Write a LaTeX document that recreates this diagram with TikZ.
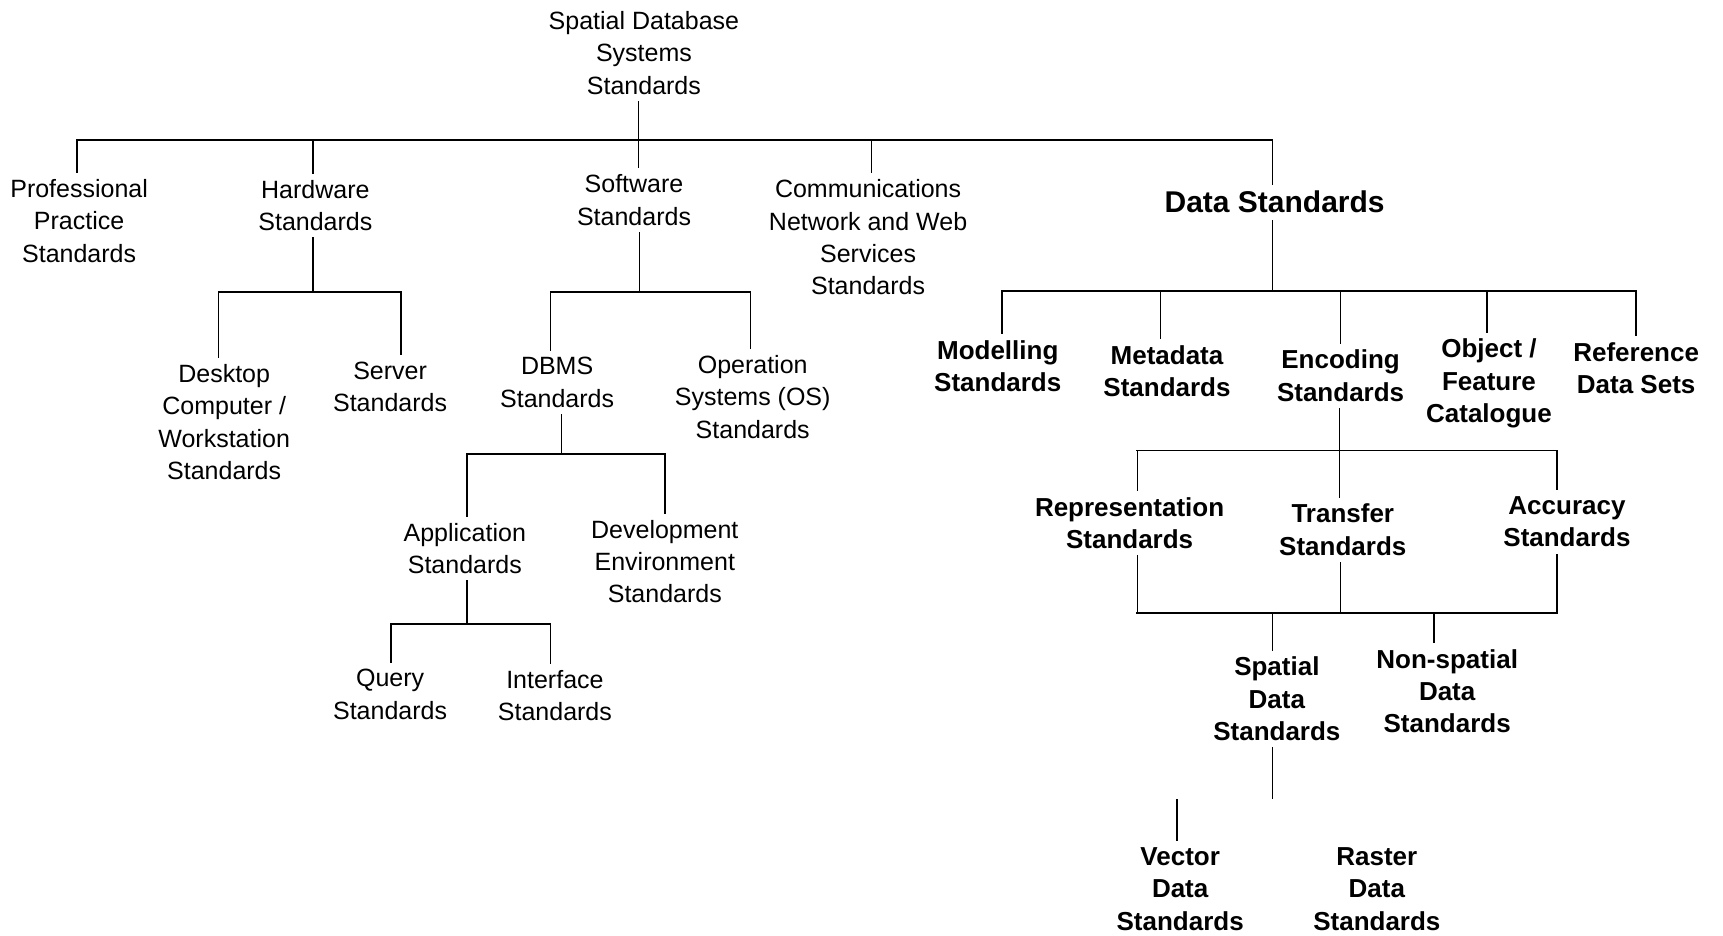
\documentclass[tikz,border=0pt]{standalone}
\usepackage{fontspec}
\setmainfont{Liberation Sans}

\begin{document}
\begin{tikzpicture}[x=0.5495pt,y=-0.5495pt,
    every node/.style={align=center,inner sep=3pt,font=\fontsize{12.5}{16.2}\selectfont},
    bold node/.style={font=\fontsize{13}{16.2}\selectfont\bfseries},
    title node/.style={font=\fontsize{15}{18}\selectfont\bfseries},
    link/.style={line width=0.75pt},
    bar/.style={line width=0.95pt,line cap=rect}]

    \useasboundingbox (0,0) rectangle (1568,851);

    % system level
    \node (root) at (586,48) {Spatial Database\\Systems\\Standards};

    \node (pp) at (72,201) {Professional\\Practice\\Standards};
    \node (hs) at (287,187) {Hardware\\Standards};
    \node (sw) at (577,182) {Software\\Standards};
    \node (cn) at (790,216) {Communications\\Network and Web\\Services\\Standards};
    \node[title node] (ds) at (1160,184) {Data Standards};

    % hardware and software
    \node (dc) at (204,384) {Desktop\\Computer /\\Workstation\\Standards};
    \node (ss) at (355,352) {Server\\Standards};
    \node (db) at (507,348) {DBMS\\Standards};
    \node (os) at (685,361) {Operation\\Systems (OS)\\Standards};
    \node (ap) at (423,499) {Application\\Standards};
    \node (de) at (605,511) {Development\\Environment\\Standards};
    \node (qs) at (355,632) {Query\\Standards};
    \node (is) at (505,633) {Interface\\Standards};

    % data
    \node[bold node] (ms) at (908,333) {Modelling\\Standards};
    \node[bold node] (md) at (1062,338) {Metadata\\Standards};
    \node[bold node] (en) at (1220,342) {Encoding\\Standards};
    \node[bold node] (ob) at (1355,349) {Object /\\Feature\\Catalogue};
    \node[bold node] (rd) at (1489,335) {Reference\\Data Sets};
    \node[bold node] (rp) at (1028,476) {Representation\\Standards};
    \node[bold node] (tr) at (1222,482) {Transfer\\Standards};
    \node[bold node] (ac) at (1426,475) {Accuracy\\Standards};
    \node[bold node] (sp) at (1162,636) {Spatial\\Data\\Standards};
    \node[bold node] (ns) at (1317,629) {Non-spatial\\Data\\Standards};
    \node[bold node] (vc) at (1074,809) {Vector\\Data\\Standards};
    \node[bold node] (rs) at (1253,809) {Raster\\Data\\Standards};

    % tree lines
    \draw[link] (581,127) -- (581,127 |- root.south);
    \draw[bar] (70,127) -- (1158,127);
    \foreach \n/\x in {pp/70,hs/285,sw/581,cn/793,ds/1158}
        \draw[link] (\x,127) -- (\x,127 |- \n.north);

    \draw[link] (285,266) -- (285,266 |- hs.south);
    \draw[bar] (199,266) -- (365,266);
    \foreach \n/\x in {dc/199,ss/365}
        \draw[link] (\x,266) -- (\x,266 |- \n.north);

    \draw[link] (582,266) -- (582,266 |- sw.south);
    \draw[bar] (501,266) -- (683,266);
    \foreach \n/\x in {db/501,os/683}
        \draw[link] (\x,266) -- (\x,266 |- \n.north);

    \draw[link] (511,413) -- (511,413 |- db.south);
    \draw[bar] (425,413) -- (605,413);
    \foreach \n/\x in {ap/425,de/605}
        \draw[link] (\x,413) -- (\x,413 |- \n.north);

    \draw[link] (425,568) -- (425,568 |- ap.south);
    \draw[bar] (356,568) -- (501,568);
    \foreach \n/\x in {qs/356,is/501}
        \draw[link] (\x,568) -- (\x,568 |- \n.north);

    \draw[link] (1158,265) -- (1158,265 |- ds.south);
    \draw[bar] (912,265) -- (1489,265);
    \foreach \n/\x in {ms/912,md/1056,en/1220,ob/1353,rd/1489}
        \draw[link] (\x,265) -- (\x,265 |- \n.north);

    \draw[link] (1219,410) -- (1219,410 |- en.south);
    \draw[bar] (1035,410) -- (1417,410);
    \foreach \n/\x in {rp/1035,tr/1219,ac/1417}
        \draw[link] (\x,410) -- (\x,410 |- \n.north);

    \foreach \n/\x in {rp/1035,tr/1220,ac/1417}
        \draw[link] (\x,558) -- (\x,558 |- \n.south);
    \draw[bar] (1035,558) -- (1417,558);
    \foreach \n/\x in {sp/1158,ns/1305}
        \draw[link] (\x,558) -- (\x,558 |- \n.north);

    \draw[link] (1158,727) -- (1158,727 |- sp.south);
    \draw[link] (1071,727) -- (1071,727 |- vc.north);
\end{tikzpicture}
\end{document}
